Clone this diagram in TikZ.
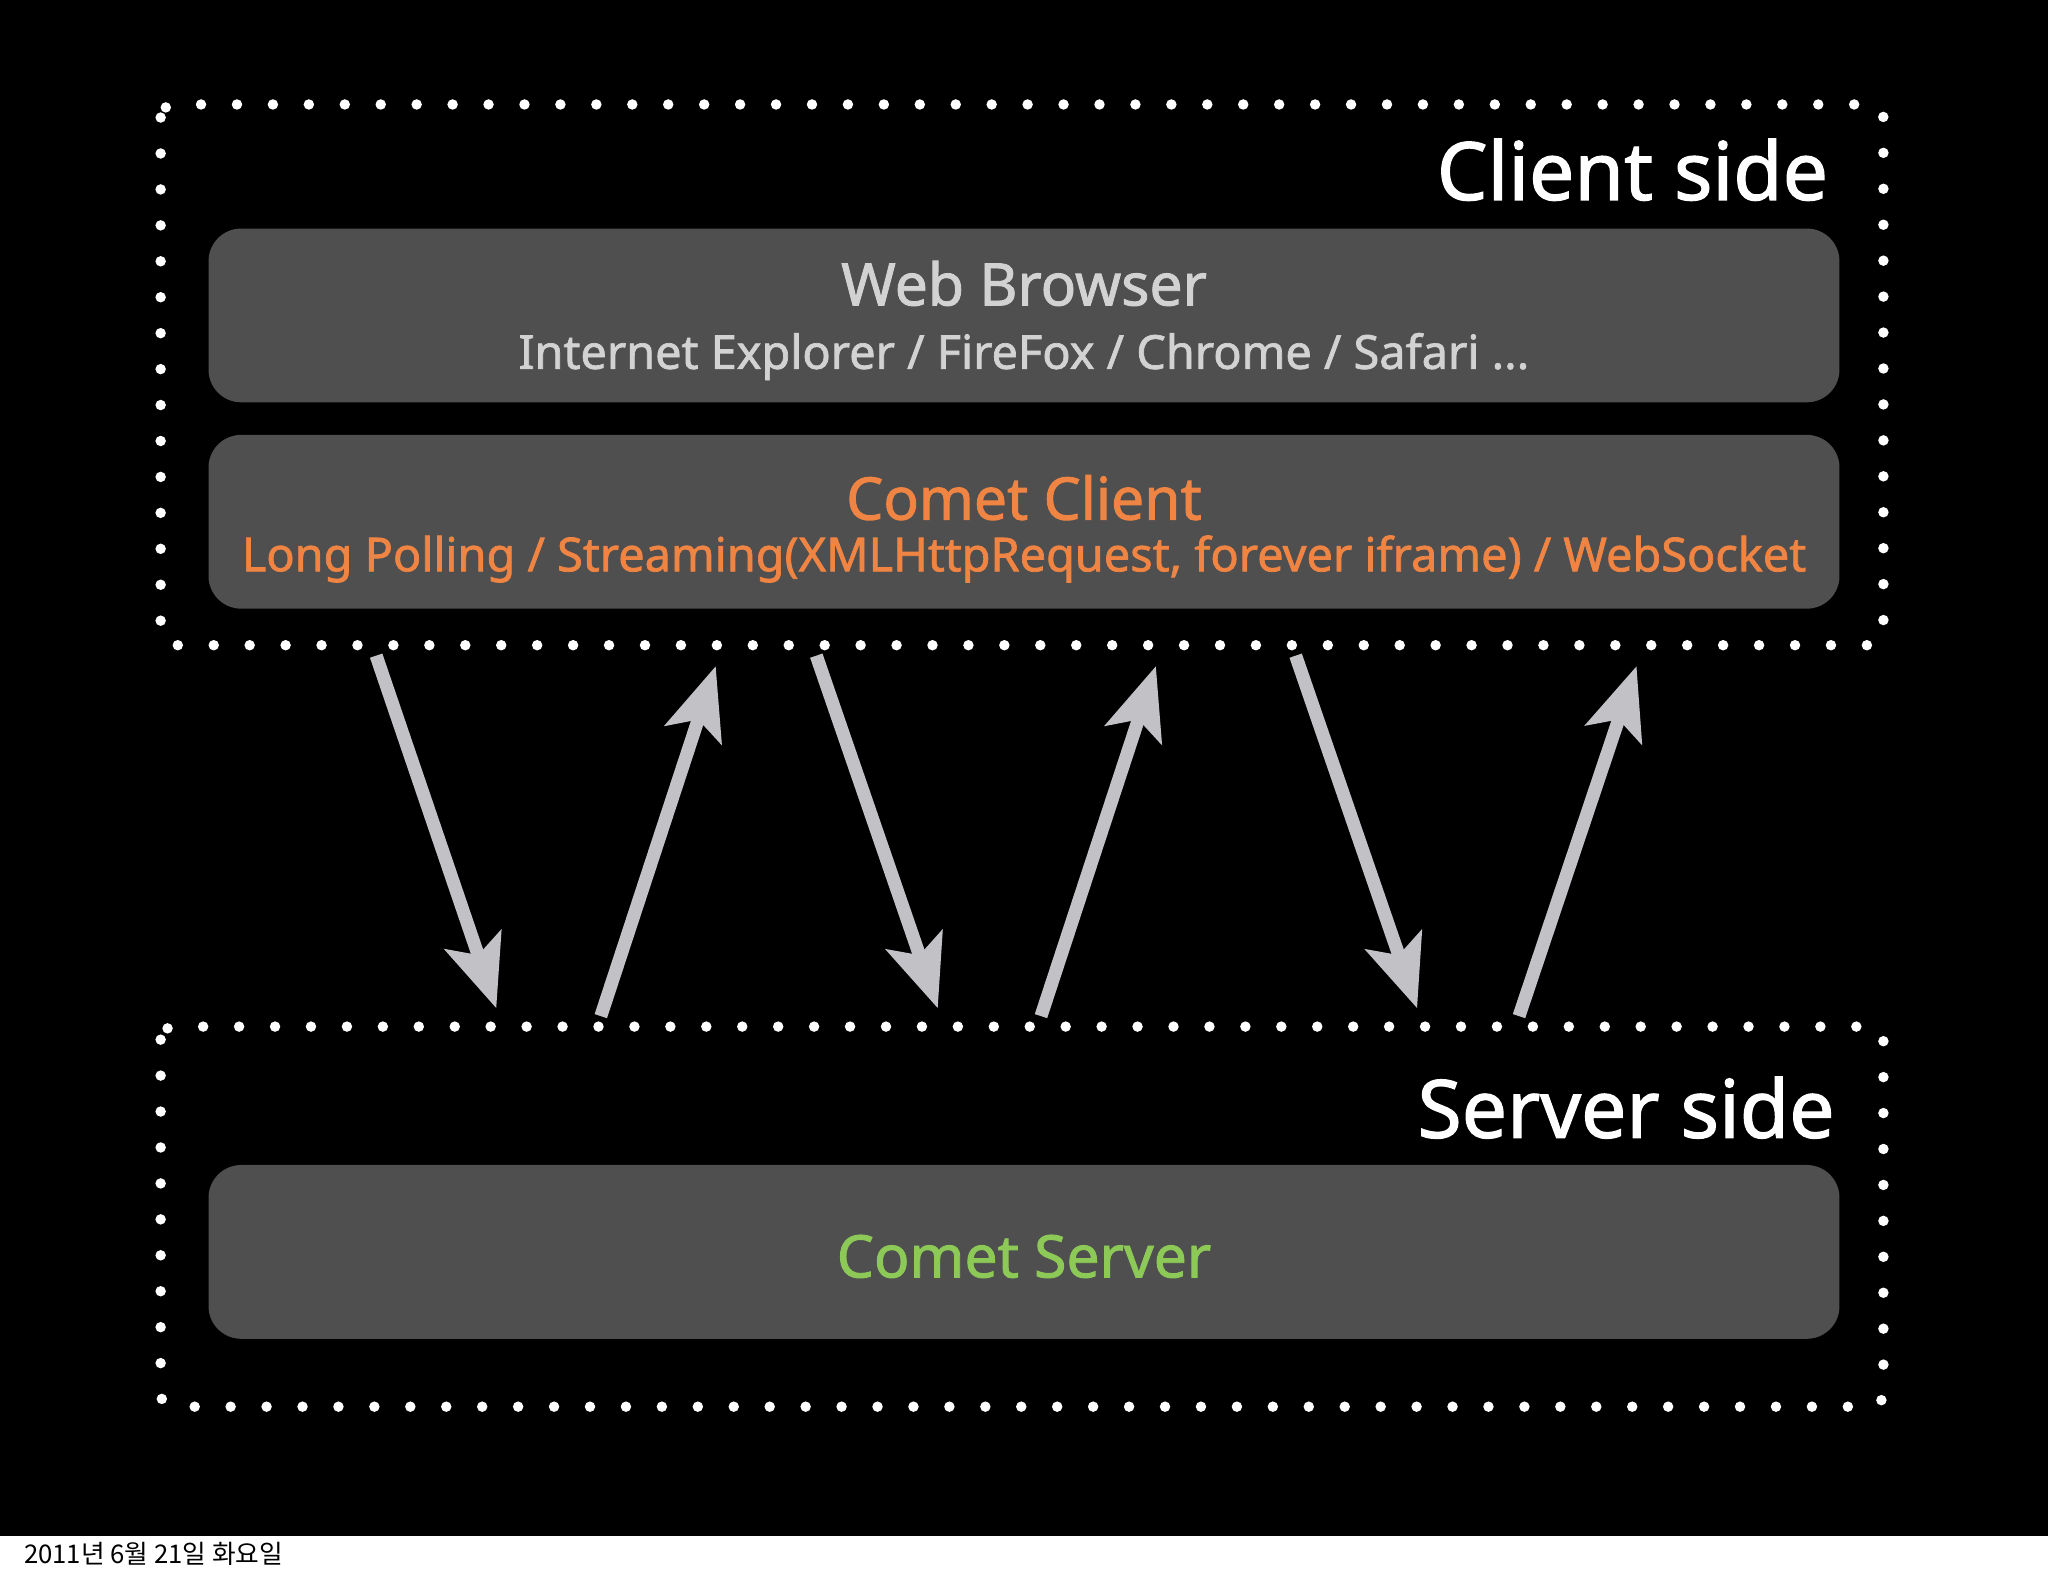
\documentclass[tikz,border=0pt]{standalone}
\usepackage{fontspec}
\setmainfont[AutoFakeBold=1.5]{Noto Sans}
\newfontfamily\krfont{Noto Sans CJK KR}
\usetikzlibrary{arrows.meta}
\definecolor{boxgray}{HTML}{4F4F4F}
\definecolor{arrgray}{HTML}{C2C1C6}
\definecolor{orng}{HTML}{F08443}
\definecolor{grn}{HTML}{8DC956}
\definecolor{lgray}{HTML}{D2D2D2}
\tikzset{
 dotbox/.style={draw=white,line width=0.08cm,line cap=round,dash pattern=on 0pt off 0.275cm,rounded corners=0.1cm},
 graybox/.style={fill=boxgray,rounded corners=0.25cm},
 flow/.style={draw=arrgray,line width=0.1cm,-{Stealth[length=0.55cm,width=0.45cm,inset=0.12cm]}},
}
\begin{document}
\begin{tikzpicture}[x=0.01cm,y=-0.01cm]
\useasboundingbox (0,0) rectangle (1568,1207);
\fill[white] (0,0) rectangle (1568,1207);
\fill[black] (0,0) rectangle (1568,1176);
\draw[dotbox] (123,80) rectangle (1442,494);
\draw[dotbox] (123,786) rectangle (1442,1077);
\node[graybox,minimum width=12.48cm,minimum height=1.33cm] (wb) at (784,241.5) {};
\node[graybox,minimum width=12.48cm,minimum height=1.33cm] (cc) at (784,399.5) {};
\node[graybox,minimum width=12.48cm,minimum height=1.33cm] (cs) at (784,958.5) {};
\node[anchor=east,text=white,font=\bfseries\fontsize{17.5}{21}\selectfont] (cls) at (1412,130) {Client side};
\node[anchor=east,text=white,font=\bfseries\fontsize{17.5}{21}\selectfont] (svs) at (1417,848) {Server side};
\node[text=lgray,font=\bfseries\fontsize{12.8}{15}\selectfont] (wbt) at (784,217) {Web Browser};
\node[text=lgray,font=\bfseries\fontsize{10.2}{12}\selectfont] (wbs) at (784,273) {Internet Explorer / FireFox / Chrome / Safari ...};
\node[text=orng,font=\bfseries\fontsize{12.8}{15}\selectfont] (cct) at (784,381) {Comet Client};
\node[text=orng,font=\bfseries\fontsize{10.2}{12}\selectfont] (ccs) at (784,428) {Long Polling / Streaming(XMLHttpRequest, forever iframe) / WebSocket};
\node[text=grn,font=\bfseries\fontsize{12.8}{15}\selectfont] (cst) at (784,962) {Comet Server};
\node[anchor=west,text=black,font=\krfont\fontsize{5.6}{7}\selectfont] (date) at (6,1190) {2011년 6월 21일 화요일};
\coordinate (d1s) at (288,502); \coordinate (d1e) at (380,772);
\coordinate (d2s) at (625,502); \coordinate (d2e) at (718,772);
\coordinate (d3s) at (992,502); \coordinate (d3e) at (1085,772);
\coordinate (u1s) at (460,778); \coordinate (u1e) at (548,510);
\coordinate (u2s) at (797,778); \coordinate (u2e) at (885,510);
\coordinate (u3s) at (1163,778); \coordinate (u3e) at (1253,510);
\draw[flow] (d1s) -- (d1e);
\draw[flow] (d2s) -- (d2e);
\draw[flow] (d3s) -- (d3e);
\draw[flow] (u1s) -- (u1e);
\draw[flow] (u2s) -- (u2e);
\draw[flow] (u3s) -- (u3e);
\end{tikzpicture}
\end{document}
